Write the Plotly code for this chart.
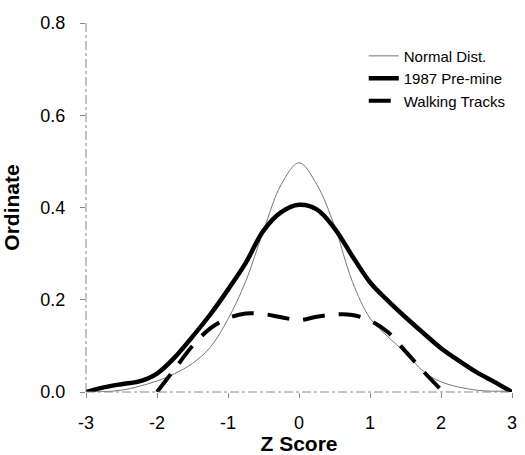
import plotly.graph_objects as go

# Normal distribution reference curve
normal_x = [-3, -2.5, -2, -1.75, -1.5, -1.25, -1, -0.75, -0.5, -0.25, 0,
            0.25, 0.5, 0.75, 1, 1.25, 1.5, 1.75, 2, 2.5, 3]
normal_y = [0.0, 0.004, 0.024, 0.04, 0.062, 0.097, 0.158, 0.24, 0.35, 0.45, 0.497,
            0.45, 0.36, 0.24, 0.16, 0.12, 0.085, 0.045, 0.022, 0.004, 0.002]

# 1987 Pre-mine
premine_x = [-3, -2.75, -2.5, -2.25, -2, -1.75, -1.5, -1.25, -1, -0.75, -0.5, -0.25, 0,
             0.25, 0.5, 0.75, 1, 1.25, 1.5, 1.75, 2, 2.25, 2.5, 2.75, 3]
premine_y = [0.0, 0.01, 0.017, 0.023, 0.04, 0.075, 0.12, 0.168, 0.222, 0.28, 0.35, 0.39, 0.406,
             0.396, 0.355, 0.295, 0.238, 0.198, 0.162, 0.128, 0.095, 0.068, 0.043, 0.022, 0.0]

# Walking Tracks
walk_x = [-2, -1.75, -1.5, -1.25, -1, -0.75, -0.5, -0.25, 0,
          0.25, 0.5, 0.75, 1, 1.25, 1.5, 1.75, 2]
walk_y = [0.0, 0.05, 0.1, 0.138, 0.16, 0.17, 0.169, 0.162, 0.156,
          0.163, 0.168, 0.167, 0.155, 0.13, 0.088, 0.045, 0.005]

x_ticks = [-3, -2, -1, 0, 1, 2, 3]
y_ticks = [0.0, 0.2, 0.4, 0.6, 0.8]
y_tick_labels = ["0.0", "0.2", "0.4", "0.6", "0.8"]

FONT = "Liberation Sans, Arial, sans-serif"

fig = go.Figure()
fig.add_trace(go.Scatter(x=normal_x, y=normal_y, mode="lines", name="Normal Dist.",
                         line=dict(color="#777777", width=1, shape="spline")))
fig.add_trace(go.Scatter(x=premine_x, y=premine_y, mode="lines", name="1987 Pre-mine",
                         line=dict(color="black", width=4.5, shape="spline")))
fig.add_trace(go.Scatter(x=walk_x, y=walk_y, mode="lines", name="Walking Tracks",
                         line=dict(color="black", width=4, shape="spline", dash="22px,14px")))

fig.update_layout(
    width=525, height=455,
    margin=dict(l=86, r=8, t=23, b=62),
    paper_bgcolor="white", plot_bgcolor="white",
    font=dict(family=FONT, color="black", size=18),
    showlegend=True,
    legend=dict(x=0.652, y=0.955, xanchor="left", yanchor="top",
                font=dict(size=15, family=FONT), bgcolor="rgba(0,0,0,0)",
                tracegroupgap=0, itemwidth=30),
    xaxis=dict(range=[-3, 3], tickvals=x_ticks, ticktext=[str(v) for v in x_ticks],
               showgrid=False, zeroline=False, showline=False,
               ticks="outside", ticklen=5, tickcolor="#888888",
               ticklabelstandoff=9,
               title=dict(text="<b>Z Score</b>", font=dict(size=21), standoff=0),
               tickfont=dict(size=18)),
    yaxis=dict(range=[0, 0.8], tickvals=y_ticks, ticktext=y_tick_labels,
               showgrid=False, zeroline=False, showline=False,
               ticks="outside", ticklen=5, tickcolor="#888888",
               ticklabelstandoff=11,
               title=dict(text="<b>Ordinate</b>", font=dict(size=21), standoff=16),
               tickfont=dict(size=18)),
    shapes=[
        dict(type="line", xref="paper", yref="paper", x0=0, x1=0, y0=0, y1=1,
             line=dict(color="#888888", width=1, dash="dashdot")),
        dict(type="line", xref="paper", yref="paper", x0=0, x1=1, y0=0, y1=0,
             line=dict(color="#888888", width=1, dash="dashdot")),
    ],
)

fig.write_html("out.html")
